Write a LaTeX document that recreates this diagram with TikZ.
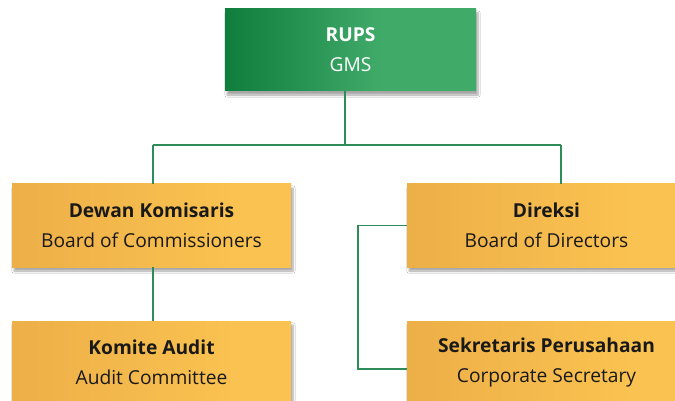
\documentclass[tikz,border=0pt]{standalone}
\usepackage{fontspec}
\setmainfont{Open Sans}
\usetikzlibrary{shadows,shadows.blur}
\definecolor{gdark}{HTML}{0F7D3C}
\definecolor{glight}{HTML}{40AA69}
\definecolor{odark}{HTML}{EDAF48}
\definecolor{olight}{HTML}{FAC250}
\definecolor{linec}{HTML}{2E8C5A}
\pgfdeclarehorizontalshading{gshade}{100bp}{color(0bp)=(gdark); color(25bp)=(gdark); color(56bp)=(glight); color(100bp)=(glight)}
\pgfdeclarehorizontalshading{oshade}{100bp}{color(0bp)=(odark); color(25bp)=(odark); color(65bp)=(olight); color(100bp)=(olight)}
\tikzset{
  box/.style={minimum width=279pt, minimum height=83pt, inner sep=0pt, align=center,
    font=\fontsize{19.2}{30}\selectfont, text=black!90,
    blur shadow={shadow xshift=2pt, shadow yshift=-4pt, shadow blur steps=6, shadow opacity=35}},
  obox/.style={box, shading=oshade},
  gbox/.style={box, minimum width=251pt, minimum height=82pt, text=white,
    shading=gshade},
  conn/.style={draw=linec, line width=1.3pt}
}
\begin{document}
\begin{tikzpicture}[x=1pt,y=-1pt]
\useasboundingbox (0,0) rectangle (675,401);
\clip (0,0) rectangle (675,401);
\fill[white] (0,0) rectangle (675,401);
\node[gbox] (rups) at (350.5,50) {\textbf{RUPS}\\GMS};
\node[obox] (dewan) at (151.5,225.5) {\textbf{Dewan Komisaris}\\Board of Commissioners};
\node[obox] (komite) at (151.5,362.5) {\textbf{Komite Audit}\\Audit Committee};
\node[obox] (direksi) at (546.5,225.5) {\textbf{Direksi}\\Board of Directors};
\node[obox] (sekretaris) at (546.5,362.5) {\textbf{Sekretaris Perusahaan}\\Corporate Secretary};
\coordinate (bus) at (345,145);
\coordinate (jl) at (153,145);
\coordinate (jr) at (561,145);
\coordinate (brk) at (358,225.5);
\draw[conn] (rups.south -| bus) -- (bus);
\draw[conn] (jl) -- (jr);
\draw[conn] (jl) -- (jl |- dewan.north);
\draw[conn] (jr) -- (jr |- direksi.north);
\draw[conn] (dewan.south -| jl) -- (komite.north -| jl);
\draw[conn] (direksi.west) -- (brk) |- ([yshift=-6.5pt]sekretaris.west);
\end{tikzpicture}
\end{document}
